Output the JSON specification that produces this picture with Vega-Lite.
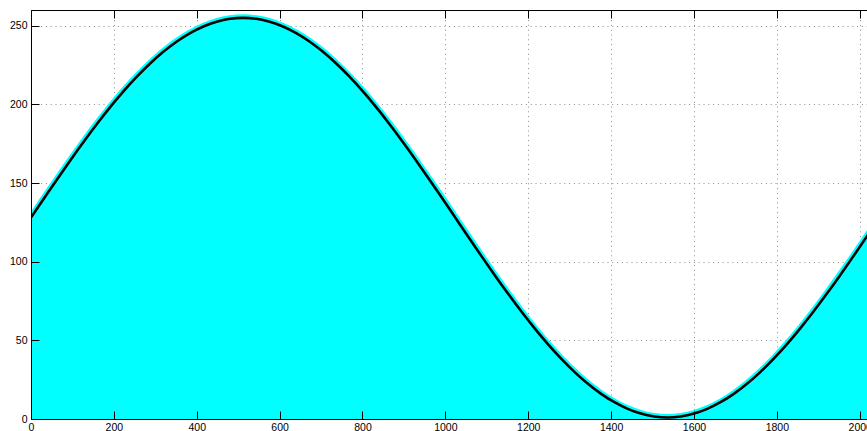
{
  "$schema": "https://vega.github.io/schema/vega-lite/v6.json",
  "autosize": "none",
  "padding": {"left": 31, "top": 10, "right": 0, "bottom": 12},
  "width": 837,
  "height": 409,
  "background": "white",
  "config": {"view": {"stroke": null}, "axis": {"labelFont": "Liberation Sans", "labelFontSize": 10.5, "labelColor": "black", "title": null}},
  "data": {"values": [
    {"x": 0, "y": 128}, {"x": 32, "y": 140.45}, {"x": 64, "y": 152.78}, {"x": 96, "y": 164.87},
    {"x": 128, "y": 176.6}, {"x": 160, "y": 187.87}, {"x": 192, "y": 198.56}, {"x": 224, "y": 208.57},
    {"x": 256, "y": 217.8}, {"x": 288, "y": 226.17}, {"x": 320, "y": 233.6}, {"x": 352, "y": 240.0},
    {"x": 384, "y": 245.33}, {"x": 416, "y": 249.53}, {"x": 448, "y": 252.56}, {"x": 480, "y": 254.39},
    {"x": 512, "y": 255}, {"x": 544, "y": 254.39}, {"x": 576, "y": 252.56}, {"x": 608, "y": 249.53},
    {"x": 640, "y": 245.33}, {"x": 672, "y": 240.0}, {"x": 704, "y": 233.6}, {"x": 736, "y": 226.17},
    {"x": 768, "y": 217.8}, {"x": 800, "y": 208.57}, {"x": 832, "y": 198.56}, {"x": 864, "y": 187.87},
    {"x": 896, "y": 176.6}, {"x": 928, "y": 164.87}, {"x": 960, "y": 152.78}, {"x": 992, "y": 140.45},
    {"x": 1024, "y": 128}, {"x": 1056, "y": 115.55}, {"x": 1088, "y": 103.22}, {"x": 1120, "y": 91.13},
    {"x": 1152, "y": 79.4}, {"x": 1184, "y": 68.13}, {"x": 1216, "y": 57.44}, {"x": 1248, "y": 47.43},
    {"x": 1280, "y": 38.2}, {"x": 1312, "y": 29.83}, {"x": 1344, "y": 22.4}, {"x": 1376, "y": 16.0},
    {"x": 1408, "y": 10.67}, {"x": 1440, "y": 6.47}, {"x": 1472, "y": 3.44}, {"x": 1504, "y": 1.61},
    {"x": 1536, "y": 1}, {"x": 1568, "y": 1.61}, {"x": 1600, "y": 3.44}, {"x": 1632, "y": 6.47},
    {"x": 1664, "y": 10.67}, {"x": 1696, "y": 16.0}, {"x": 1728, "y": 22.4}, {"x": 1760, "y": 29.83},
    {"x": 1792, "y": 38.2}, {"x": 1824, "y": 47.43}, {"x": 1856, "y": 57.44}, {"x": 1888, "y": 68.13},
    {"x": 1920, "y": 79.4}, {"x": 1952, "y": 91.13}, {"x": 1984, "y": 103.22}, {"x": 2016, "y": 115.55},
    {"x": 2048, "y": 128}
  ]},
  "resolve": {"axis": {"x": "independent", "y": "independent"}},
  "layer": [
    {
      "mark": {"type": "area", "color": "#00ffff", "interpolate": "monotone", "clip": true},
      "encoding": {
        "x": {"field": "x", "type": "quantitative", "scale": {"domain": [0, 2020], "nice": false, "zero": false},
          "axis": {"orient": "bottom", "grid": true, "labels": false, "ticks": false, "domain": false, "values": [0,200,400,600,800,1000,1200,1400,1600,1800,2000], "gridColor": "#8c8c8c", "gridDash": [1, 3.8], "gridWidth": 1, "gridOpacity": 1, "zindex": 0}},
        "y": {"field": "y", "type": "quantitative", "scale": {"domain": [0, 260], "nice": false},
          "axis": {"orient": "left", "grid": true, "labels": false, "ticks": false, "domain": false, "values": [0,50,100,150,200,250], "gridColor": "#8c8c8c", "gridDash": [1, 3.8], "gridWidth": 1, "gridOpacity": 1, "zindex": 0}}
      }
    },
    {
      "mark": {"type": "line", "color": "#00ffff", "strokeWidth": 7, "interpolate": "monotone", "clip": true, "strokeCap": "round"},
      "encoding": {
        "x": {"field": "x", "type": "quantitative",
          "axis": {"orient": "bottom", "grid": false, "labels": true, "format": "d", "ticks": false, "domain": true, "domainColor": "black", "domainWidth": 1, "labelPadding": 3, "values": [0,200,400,600,800,1000,1200,1400,1600,1800,2000], "labelFlush": false, "labelOverlap": false, "zindex": 1}},
        "y": {"field": "y", "type": "quantitative",
          "axis": {"orient": "left", "grid": false, "labels": true, "format": "d", "ticks": false, "domain": true, "domainColor": "black", "domainWidth": 1, "labelPadding": 4, "values": [0,50,100,150,200,250], "labelFlush": false, "labelOverlap": false, "zindex": 1}}
      }
    },
    {
      "mark": {"type": "line", "color": "black", "strokeWidth": 2.6, "interpolate": "monotone", "clip": true},
      "encoding": {
        "x": {"field": "x", "type": "quantitative",
          "axis": {"orient": "bottom", "offset": -8, "grid": false, "labels": false, "ticks": true, "tickSize": 8, "tickColor": "black", "tickWidth": 1, "domain": false, "values": [0,200,400,600,800,1000,1200,1400,1600,1800,2000], "zindex": 1}},
        "y": {"field": "y", "type": "quantitative",
          "axis": {"orient": "left", "offset": -8, "grid": false, "labels": false, "ticks": true, "tickSize": 8, "tickColor": "black", "tickWidth": 1, "domain": false, "values": [0,50,100,150,200,250], "zindex": 1}}
      }
    },
    {
      "mark": {"type": "line", "strokeOpacity": 0, "clip": true},
      "encoding": {
        "x": {"field": "x", "type": "quantitative",
          "axis": {"orient": "top", "grid": false, "labels": false, "ticks": false, "domain": true, "domainColor": "black", "domainWidth": 1, "values": [0,200,400,600,800,1000,1200,1400,1600,1800,2000], "zindex": 1}},
        "y": {"field": "y", "type": "quantitative", "axis": null}
      }
    },
    {
      "mark": {"type": "line", "strokeOpacity": 0, "clip": true},
      "encoding": {
        "x": {"field": "x", "type": "quantitative",
          "axis": {"orient": "top", "offset": -8, "grid": false, "labels": false, "ticks": true, "tickSize": 8, "tickColor": "black", "tickWidth": 1, "domain": false, "values": [0,200,400,600,800,1000,1200,1400,1600,1800,2000], "zindex": 1}},
        "y": {"field": "y", "type": "quantitative", "axis": null}
      }
    }
  ]
}
